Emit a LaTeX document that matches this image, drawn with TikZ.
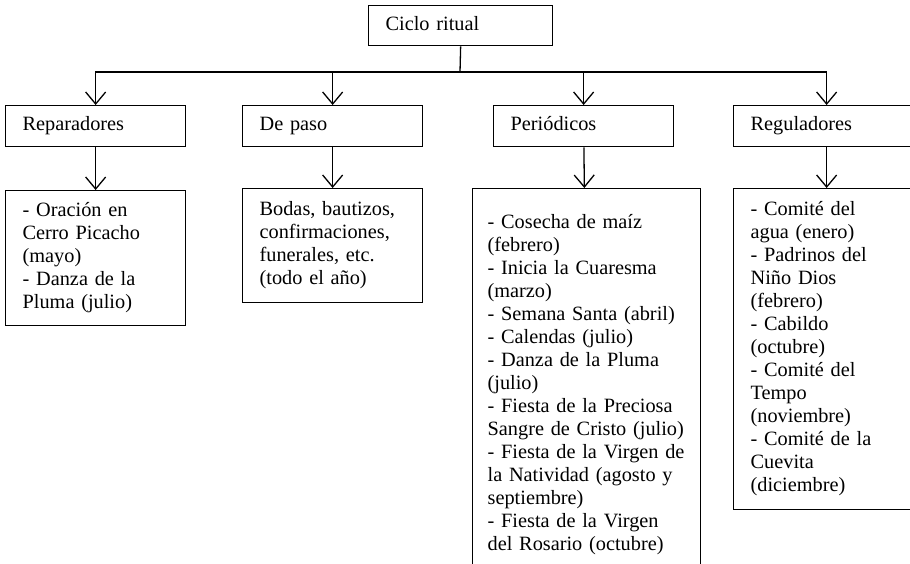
\documentclass[tikz,border=0pt]{standalone}
\usepackage{fontspec}
\setmainfont{Liberation Serif}
\usetikzlibrary{arrows.meta}
\tikzstyle{box} = [draw, line width=1.3pt, align=left, anchor=north west, inner xsep=17pt, inner ysep=0pt, font=\fontsize{20.3}{23}\selectfont, execute at begin node=\strut, execute at end node=\strut]
\tikzstyle{head} = [box, text width=146pt, minimum height=41pt]
\tikzstyle{list} = [box, text width=146pt]
\tikzstyle{line} = [line width=1.3pt]
\tikzstyle{arrow} = [line, -{Straight Barb[length=12pt, width=20pt, line width=1.3pt]}]

\begin{document}
\begin{tikzpicture}[x=1pt, y=-1pt]
	\useasboundingbox (0,0) rectangle (910,563);
	\clip (0,0) rectangle (910,563);

	\node (ciclo)[head, text width=150pt, minimum height=40pt] at (368,5) {Ciclo ritual};

	\node (rep)[head] at (5,105) {Reparadores};
	\node (paso)[head] at (242,105) {De paso};
	\node (per)[head] at (493,105) {Periódicos};
	\node (reg)[head, text width=152pt] at (733,105) {Reguladores};

	\node (replist)[list, minimum height=135pt] at (5,190) {- Oración en\\Cerro Picacho\\(mayo)\\- Danza de la\\Pluma (julio)};
	\node (pasolist)[list, minimum height=114pt] at (242,188) {Bodas, bautizos,\\confirmaciones,\\funerales, etc.\\(todo el año)};
	\node (perlist)[list, text width=198pt, inner xsep=15pt, minimum height=392pt] at (472,188) {- Cosecha de maíz\\(febrero)\\- Inicia la Cuaresma\\(marzo)\\- Semana Santa (abril)\\- Calendas (julio)\\- Danza de la Pluma\\(julio)\\- Fiesta de la Preciosa\\Sangre de Cristo (julio)\\- Fiesta de la Virgen de\\la Natividad (agosto y\\septiembre)\\- Fiesta de la Virgen\\del Rosario (octubre)};
	\node (reglist)[list, text width=152pt, minimum height=321pt] at (733,188) {- Comité del\\agua (enero)\\- Padrinos del\\Niño Dios\\(febrero)\\- Cabildo\\(octubre)\\- Comité del\\Tempo\\(noviembre)\\- Comité de la\\Cuevita\\(diciembre)};

	\coordinate (bus) at (460,72);
	\draw [line] (ciclo.south) -- (bus);
	\draw [arrow] (bus) -| (rep.north);
	\draw [arrow] (bus) -| (paso.north);
	\draw [arrow] (bus) -| (per.north);
	\draw [arrow] (bus) -| (reg.north);

	\draw [arrow] (rep) -- (replist);
	\draw [arrow] (paso) -- (pasolist);
	\draw [arrow] (per) -- (perlist);
	\draw [arrow] (reg) -- (reglist);
\end{tikzpicture}
\end{document}
